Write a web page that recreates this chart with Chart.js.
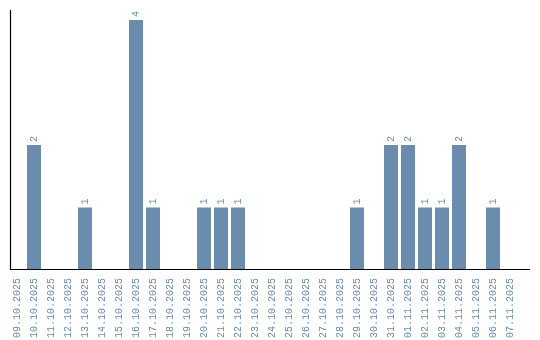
<!DOCTYPE html>
<html>
<head>
<meta charset="utf-8">
<script src="https://cdn.jsdelivr.net/npm/chart.js@4/dist/chart.umd.min.js"></script>
<style>
    html, body { margin: 0; padding: 0; background: #ffffff; }
    #wrap { width: 540px; height: 340px; position: relative; }
</style>
</head>
<body>
<div id="wrap"><canvas id="myChart"></canvas></div>
<script>
const dates = [
    '09.10.2025', '10.10.2025', '11.10.2025', '12.10.2025', '13.10.2025', '14.10.2025',
    '15.10.2025', '16.10.2025', '17.10.2025', '18.10.2025', '19.10.2025', '20.10.2025',
    '21.10.2025', '22.10.2025', '23.10.2025', '24.10.2025', '25.10.2025', '26.10.2025',
    '27.10.2025', '28.10.2025', '29.10.2025', '30.10.2025', '31.10.2025', '01.11.2025',
    '02.11.2025', '03.11.2025', '04.11.2025', '05.11.2025', '06.11.2025', '07.11.2025'
];
const counts = [0, 2, 0, 0, 1, 0, 0, 4, 1, 0, 0, 1, 1, 1, 0, 0, 0, 0, 0, 0, 1, 0, 2, 2, 1, 1, 2, 0, 1, 0];

const barColor = '#6a8caf';
const fontFamily = '"Liberation Mono", monospace';

// axis lines + rotated value labels above bars
const extras = {
    id: 'extras',
    afterDatasetsDraw(chart) {
        const ctx = chart.ctx;
        const y = chart.scales.y;
        const base = y.getPixelForValue(0);

        ctx.save();
        ctx.strokeStyle = '#000000';
        ctx.lineWidth = 1.2;
        ctx.beginPath();
        ctx.moveTo(10.5, 10);
        ctx.lineTo(10.5, base - 0.5);
        ctx.lineTo(530, base - 0.5);
        ctx.stroke();

        ctx.fillStyle = barColor;
        ctx.font = '10px ' + fontFamily;
        ctx.textAlign = 'left';
        ctx.textBaseline = 'middle';
        chart.getDatasetMeta(0).data.forEach((bar, i) => {
            if (!counts[i]) return;
            ctx.save();
            ctx.translate(bar.x, bar.y - 3);
            ctx.rotate(-Math.PI / 2);
            ctx.fillText(String(counts[i]), 0, 0);
            ctx.restore();
        });
        ctx.restore();
    }
};

new Chart(document.getElementById('myChart'), {
    type: 'bar',
    data: {
        labels: dates,
        datasets: [{
            data: counts,
            backgroundColor: barColor,
            borderWidth: 0,
            categoryPercentage: 1,
            barPercentage: 14 / 17
        }]
    },
    options: {
        responsive: true,
        maintainAspectRatio: false,
        animation: false,
        layout: { padding: { left: 8.5, right: 21.5, top: 20, bottom: 0 } },
        scales: {
            x: {
                grid: { display: false, drawTicks: false },
                border: { display: false },
                ticks: {
                    color: barColor,
                    font: { family: fontFamily, size: 10 },
                    minRotation: 90,
                    maxRotation: 90,
                    autoSkip: false,
                    padding: 8
                },
                afterFit(scale) { scale.height = 70; }
            },
            y: {
                display: false,
                min: 0,
                max: 4
            }
        },
        plugins: {
            legend: { display: false },
            tooltip: { enabled: false }
        }
    },
    plugins: [extras]
});
</script>
</body>
</html>
